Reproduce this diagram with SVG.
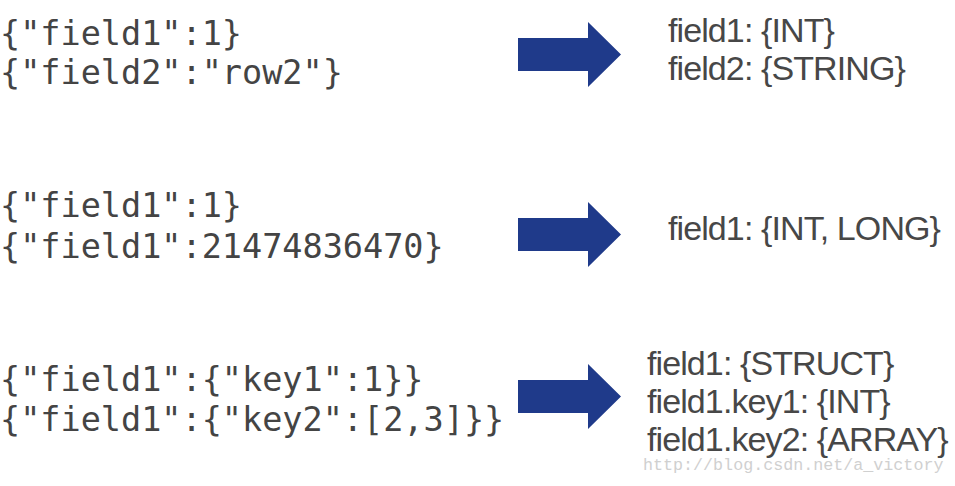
<svg xmlns="http://www.w3.org/2000/svg" width="955" height="486" viewBox="0 0 955 486">
<style>
.code{font-family:"DejaVu Sans Mono","Liberation Mono",monospace;font-size:33.5px;fill:#444}
.out{font-family:"Liberation Sans","Noto Sans",sans-serif;font-size:34px;fill:#474747;letter-spacing:-0.9px}
.arrow{fill:#1f3a8a}
.wm{font-family:"Liberation Mono",monospace;font-size:16.7px;fill:#d0d0d0}
</style>
<defs>
<path id="arr" d="M518,-16.5 H588 V-32.5 L621,0 L588,32.5 V16.5 H518 Z"/>
</defs>
<rect width="955" height="486" fill="#fff"/>
<g id="row1-input"><text class="code" x="0" y="45">{"field1":1}</text><text class="code" x="0" y="84">{"field2":"row2"}</text></g>
<g id="row2-input"><text class="code" x="0" y="217">{"field1":1}</text><text class="code" x="0" y="258">{"field1":21474836470}</text></g>
<g id="row3-input"><text class="code" x="0" y="391">{"field1":{"key1":1}}</text><text class="code" x="0" y="431">{"field1":{"key2":[2,3]}}</text></g>
<g id="connectors">
<use href="#arr" class="arrow" y="54.5"/>
<use href="#arr" class="arrow" y="234.5"/>
<use href="#arr" class="arrow" y="396.5"/>
</g>
<g id="row1-output"><text class="out" x="668" y="42">field1: {INT}</text><text class="out" x="668" y="80">field2: {STRING}</text></g>
<g id="row2-output"><text class="out" x="668" y="240">field1: {INT, LONG}</text></g>
<g id="row3-output"><text class="out" x="647" y="375">field1: {STRUCT}</text><text class="out" x="647" y="413">field1.key1: {INT}</text><text class="out" x="647" y="451">field1.key2: {ARRAY}</text></g>
<text class="wm" x="643" y="470">http://blog.csdn.net/a_victory</text>
</svg>
